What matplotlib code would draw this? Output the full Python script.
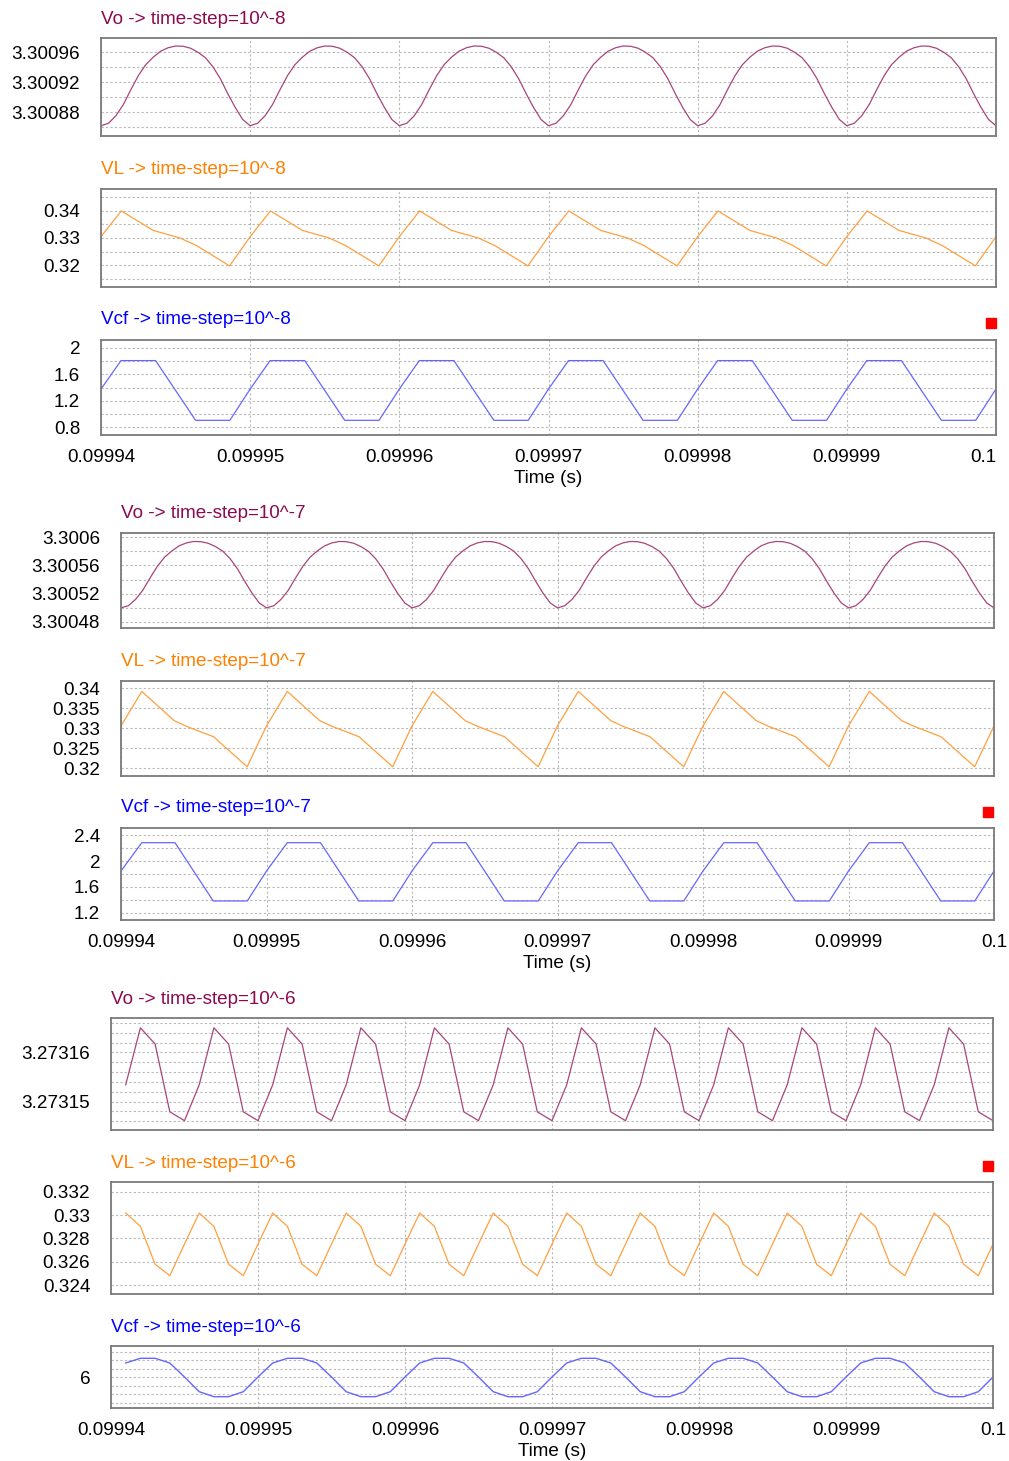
import numpy as np
import matplotlib
matplotlib.use("Agg")
import matplotlib.pyplot as plt
from matplotlib.ticker import FixedLocator, FixedFormatter
from matplotlib.patches import Rectangle

plt.rcParams['font.family'] = ['Liberation Sans', 'DejaVu Sans']
plt.rcParams['font.size'] = 13.6

W, H = 1009, 1461
T0 = 0.09994
PERIOD = 1e-5
N_CYC = 6
DT6 = 1e-6
FS = 13.6

# one cycle of each waveform (phase in fraction of period)
vo_phase = [0, 0.05, 0.1, 0.15, 0.2, 0.25, 0.3, 0.35, 0.4, 0.45, 0.5,
            0.55, 0.6, 0.65, 0.7, 0.75, 0.8, 0.85, 0.9, 0.95]
vo8 = [3.3008617, 3.3008650, 3.3008750, 3.3008900, 3.3009097, 3.3009284,
       3.3009431, 3.3009531, 3.3009611, 3.3009657, 3.3009680, 3.3009677,
       3.3009651, 3.3009597, 3.3009524, 3.3009404, 3.3009244, 3.3009044,
       3.3008860, 3.3008700]
vo7 = [3.3005000, 3.3005030, 3.3005120, 3.3005250, 3.3005425, 3.3005589,
       3.3005719, 3.3005807, 3.3005879, 3.3005920, 3.3005940, 3.3005937,
       3.3005914, 3.3005867, 3.3005802, 3.3005696, 3.3005555, 3.3005377,
       3.3005210, 3.3005070]

vl8_phase = [0, 0.136, 0.35, 0.53, 0.64, 0.862]
vl8 = [0.3305, 0.3400, 0.3328, 0.3300, 0.3272, 0.3197]
vl7_phase = [0, 0.143, 0.366, 0.45, 0.636, 0.867]
vl7 = [0.3306, 0.3392, 0.3319, 0.3305, 0.3279, 0.3204]

vcf8_phase = [0, 0.134, 0.366, 0.634, 0.864]
vcf8 = [1.377, 1.805, 1.805, 0.906, 0.906]
vcf7_phase = [0, 0.143, 0.371, 0.634, 0.868]
vcf7 = [1.846, 2.282, 2.282, 1.385, 1.385]

# time-step 1e-6: samples every 1 us (k = 1..60)
vo6_cycle = [3.2731534, 3.2731650, 3.2731617, 3.2731479, 3.2731461]
vl6_cycle = [0.33017, 0.32903, 0.32578, 0.32480, 0.32751]
vcf6_cycle = [6.333, 6.442, 6.442, 6.333, 6.007, 5.665, 5.549, 5.549, 5.665, 6.007]

xtick_vals = [0.09994, 0.09995, 0.09996, 0.09997, 0.09998, 0.09999, 0.1]
xtick_labels = ['0.09994', '0.09995', '0.09996', '0.09997', '0.09998', '0.09999', '0.1']

VO_C, VO_L = '#8B0A50', '#A8457A'
VL_C, VL_L = '#FF8000', '#FFA040'
VCF_C, VCF_L = '#0000FF', '#6666FF'


def tile(phase, vals):
    t = np.concatenate([T0 + (k + np.array(phase)) * PERIOD for k in range(N_CYC)])
    v = np.tile(vals, N_CYC)
    return np.append(t, T0 + N_CYC * PERIOD), np.append(v, vals[0])


def sampled(cycle):
    n = 60
    t = T0 + np.arange(1, n + 1) * DT6
    v = np.array([cycle[(k - 1) % len(cycle)] for k in range(1, n + 1)])
    return t, v


fig = plt.figure(figsize=(W / 100, H / 100), dpi=100)


def add_ax(l, t, r, b):
    return fig.add_axes([l / W, 1 - b / H, (r - l) / W, (b - t) / H])


def setup(ax, major, labels, minor, ylim, title, tcolor, title_y, xlab=False, last_right=False):
    ax.set_xlim(T0, 0.1)
    ax.set_ylim(*ylim)
    ax.xaxis.set_major_locator(FixedLocator(xtick_vals))
    if xlab:
        ax.xaxis.set_major_formatter(FixedFormatter(xtick_labels))
    else:
        ax.xaxis.set_major_formatter(FixedFormatter([''] * 7))
    ax.yaxis.set_major_locator(FixedLocator(major))
    ax.yaxis.set_major_formatter(FixedFormatter(labels))
    ax.yaxis.set_minor_locator(FixedLocator(minor))
    ax.yaxis.remove_overlapping_locs = False
    ax.tick_params(which='both', length=0)
    ax.tick_params(axis='y', pad=15, labelsize=FS)
    ax.tick_params(axis='x', pad=10, labelsize=FS)
    ax.grid(True, axis='x', which='major', ls=(0, (2, 2)), color='#B8B8B8', lw=0.8)
    ax.grid(True, axis='y', which='minor', ls=(0, (2, 2)), color='#B8B8B8', lw=0.8)
    for s in ax.spines.values():
        s.set_color('#7A7A7A')
        s.set_linewidth(1.3)
    bb = ax.get_position()
    fig.text(bb.x0, 1 - (title_y + 2) / H, title, color=tcolor, fontsize=FS,
             ha='left', va='center')
    if xlab:
        ax.set_xlabel('Time (s)', fontsize=FS, labelpad=3)
        if last_right:
            ax.get_xticklabels()[-1].set_ha('right')
    return ax


def red_mark(x, y):
    fig.patches.append(Rectangle(((x - 5) / W, 1 - (y + 5) / H), 10 / W, 10 / H,
                                 transform=fig.transFigure, color='#FF0000'))


# ---- time-step 1e-8 ----
ax = add_ax(101, 38, 996, 136)
t, v = tile(vo_phase, vo8)
ax.plot(t, v, color=VO_L, lw=0.9)
setup(ax, [3.30088, 3.30092, 3.30096], ['3.30088', '3.30092', '3.30096'],
      np.arange(3.30086, 3.300965, 0.00002), (3.300848, 3.3009787),
      'Vo -> time-step=10^-8', VO_C, 17)

ax = add_ax(101, 189, 996, 287)
t, v = tile(vl8_phase, vl8)
ax.plot(t, v, color=VL_L, lw=0.9)
setup(ax, [0.32, 0.33, 0.34], ['0.32', '0.33', '0.34'],
      np.arange(0.315, 0.3451, 0.005), (0.3119, 0.3481),
      'VL -> time-step=10^-8', VL_C, 167)

ax = add_ax(101, 340, 996, 435)
t, v = tile(vcf8_phase, vcf8)
ax.plot(t, v, color=VCF_L, lw=0.9)
setup(ax, [0.8, 1.2, 1.6, 2.0], ['0.8', '1.2', '1.6', '2'],
      np.arange(0.8, 2.01, 0.2), (0.685, 2.115),
      'Vcf -> time-step=10^-8', VCF_C, 318, xlab=True, last_right=True)
red_mark(991, 323)

# ---- time-step 1e-7 ----
ax = add_ax(121, 533, 994, 628)
t, v = tile(vo_phase, vo7)
ax.plot(t, v, color=VO_L, lw=0.9)
setup(ax, [3.30048, 3.30052, 3.30056, 3.3006],
      ['3.30048', '3.30052', '3.30056', '3.3006'],
      np.arange(3.30048, 3.300601, 0.00002), (3.3004715, 3.300606),
      'Vo -> time-step=10^-7', VO_C, 512)

ax = add_ax(121, 681, 994, 776)
t, v = tile(vl7_phase, vl7)
ax.plot(t, v, color=VL_L, lw=0.9)
setup(ax, [0.32, 0.325, 0.33, 0.335, 0.34], ['0.32', '0.325', '0.33', '0.335', '0.34'],
      [0.32, 0.325, 0.33, 0.335, 0.34], (0.3181, 0.3418),
      'VL -> time-step=10^-7', VL_C, 659)

ax = add_ax(121, 828, 994, 920)
t, v = tile(vcf7_phase, vcf7)
ax.plot(t, v, color=VCF_L, lw=0.9)
setup(ax, [1.2, 1.6, 2.0, 2.4], ['1.2', '1.6', '2', '2.4'],
      np.arange(1.2, 2.41, 0.2), (1.092, 2.508),
      'Vcf -> time-step=10^-7', VCF_C, 806, xlab=True)
red_mark(988, 812)

# ---- time-step 1e-6 ----
ax = add_ax(111, 1018, 993, 1130)
t, v = sampled(vo6_cycle)
ax.plot(t, v, color=VO_L, lw=0.9)
setup(ax, [3.27315, 3.27316], ['3.27315', '3.27316'],
      np.arange(3.273146, 3.2731661, 0.000002), (3.2731442, 3.273167),
      'Vo -> time-step=10^-6', VO_C, 997)

ax = add_ax(111, 1182, 993, 1294)
t, v = sampled(vl6_cycle)
ax.plot(t, v, color=VL_L, lw=0.9)
setup(ax, [0.324, 0.326, 0.328, 0.33, 0.332], ['0.324', '0.326', '0.328', '0.33', '0.332'],
      [0.324, 0.326, 0.328, 0.33, 0.332], (0.32323, 0.33283),
      'VL -> time-step=10^-6', VL_C, 1161)
red_mark(988, 1166)

ax = add_ax(111, 1346, 993, 1408)
t, v = sampled(vcf6_cycle)
ax.plot(t, v, color=VCF_L, lw=1.0)
setup(ax, [6.0], ['6'], np.arange(5.4, 6.61, 0.2), (5.286, 6.728),
      'Vcf -> time-step=10^-6', VCF_C, 1325, xlab=True)

fig.savefig('out.png', dpi=100)
